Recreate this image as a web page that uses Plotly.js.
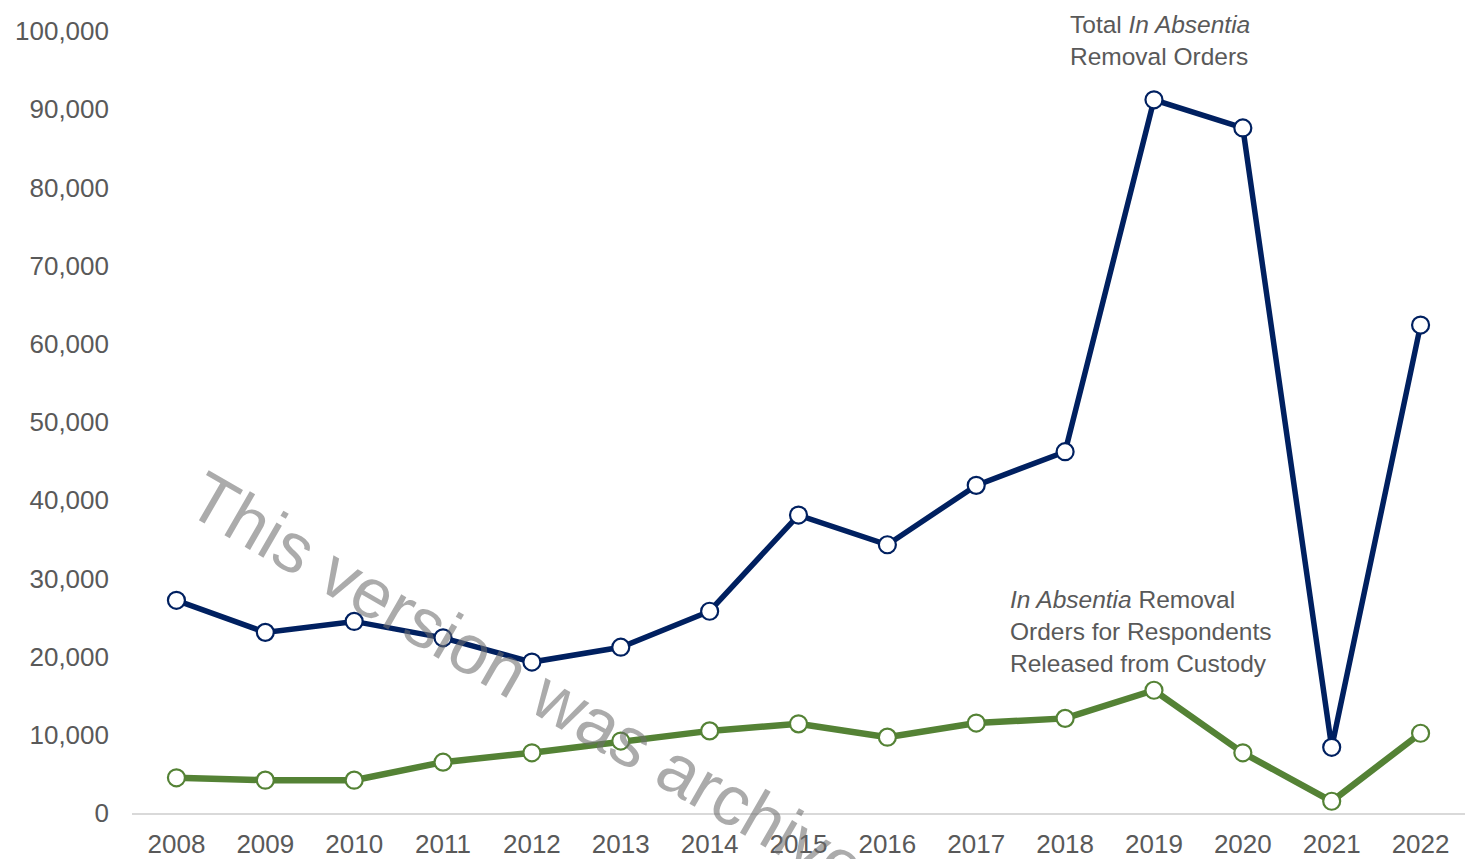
<!DOCTYPE html>
<html>
<head>
<meta charset="utf-8">
<script src="https://cdn.plot.ly/plotly-3.0.1.min.js"></script>
<style>html,body{margin:0;padding:0;background:#fff;}#chart{width:1465px;height:859px;}</style>
</head>
<body>
<div id="chart"></div>
<script>
const years = ["2008","2009","2010","2011","2012","2013","2014","2015","2016","2017","2018","2019","2020","2021","2022"];
const totalInAbsentia = [27200, 23100, 24500, 22400, 19300, 21200, 25800, 38100, 34300, 41900, 46200, 91200, 87600, 8400, 62400];
const releasedInAbsentia = [4500, 4200, 4200, 6500, 7700, 9200, 10500, 11400, 9700, 11500, 12100, 15700, 7700, 1500, 10200];
const yTickVals = [0,10000,20000,30000,40000,50000,60000,70000,80000,90000,100000];

const textColor = "#595959";
const fontFam = "Liberation Sans, Arial, sans-serif";

const traces = [
  {
    x: years, y: totalInAbsentia, type: "scatter", mode: "lines+markers",
    line: {color: "#002060", width: 5.5},
    marker: {symbol: "circle", size: 17, color: "#ffffff", line: {color: "#002060", width: 2.2}},
    cliponaxis: false, hoverinfo: "skip"
  },
  {
    x: years, y: releasedInAbsentia, type: "scatter", mode: "lines+markers",
    line: {color: "#548235", width: 6.5},
    marker: {symbol: "circle", size: 17, color: "#ffffff", line: {color: "#548235", width: 2.2}},
    cliponaxis: false, hoverinfo: "skip"
  }
];

const layout = {
  width: 1465, height: 859,
  margin: {l: 132, r: 0, t: 31, b: 46},
  paper_bgcolor: "#ffffff", plot_bgcolor: "#ffffff",
  showlegend: false,
  font: {family: fontFam, color: textColor, size: 26},
  xaxis: {
    type: "category", range: [-0.5, 14.5],
    showgrid: false, zeroline: false,
    showline: true, linecolor: "#d9d9d9", linewidth: 2,
    ticks: "", ticklabelstandoff: 7,
    tickfont: {family: fontFam, size: 26, color: textColor},
    fixedrange: true
  },
  yaxis: {
    range: [0, 100000], tickvals: yTickVals, tickformat: ",",
    showgrid: false, zeroline: false, showline: false,
    ticks: "", ticklabelstandoff: 22,
    tickfont: {family: fontFam, size: 26, color: textColor},
    fixedrange: true
  },
  annotations: [
    {
      xref: "paper", yref: "paper", x: 0.7025, y: 0.988,
      xanchor: "left", yanchor: "middle", align: "left", showarrow: false,
      text: "Total <i>In Absentia</i><br>Removal Orders",
      font: {family: fontFam, size: 24.5, color: textColor}
    },
    {
      xref: "paper", yref: "paper", x: 0.6575, y: 0.2327,
      xanchor: "left", yanchor: "middle", align: "left", showarrow: false,
      text: "<i>In Absentia</i> Removal<br>Orders for Respondents<br>Released from Custody",
      font: {family: fontFam, size: 24.5, color: textColor}
    },
    {
      xref: "paper", yref: "paper", x: 0.3158, y: 0.1483,
      xanchor: "center", yanchor: "middle", showarrow: false,
      textangle: 30,
      text: "This version was archived.",
      font: {family: fontFam, size: 70, color: "rgba(110,110,110,0.58)"}
    }
  ]
};

Plotly.newPlot("chart", traces, layout, {displayModeBar: false, staticPlot: true});
</script>
</body>
</html>
